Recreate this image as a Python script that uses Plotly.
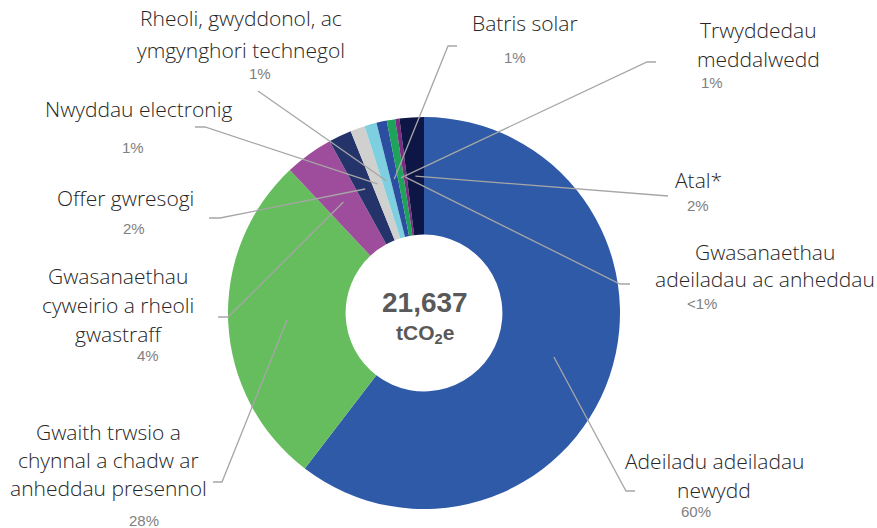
import math
import plotly.graph_objects as go

# ---- data ----
categories = [
    "Adeiladu adeiladau newydd",
    "Gwaith trwsio a chynnal a chadw ar anheddau presennol",
    "Gwasanaethau cyweirio a rheoli gwastraff",
    "Offer gwresogi",
    "Nwyddau electronig",
    "Rheoli, gwyddonol, ac ymgynghori technegol",
    "Batris solar",
    "Trwyddedau meddalwedd",
    "Gwasanaethau adeiladau ac anheddau",
    "Atal*",
]
label_lines = [
    ["Adeiladu adeiladau", "newydd"],
    ["Gwaith trwsio a", "chynnal a chadw ar", "anheddau presennol"],
    ["Gwasanaethau", "cyweirio a rheoli", "gwastraff"],
    ["Offer gwresogi"],
    ["Nwyddau electronig"],
    ["Rheoli, gwyddonol, ac", "ymgynghori technegol"],
    ["Batris solar"],
    ["Trwyddedau", "meddalwedd"],
    ["Gwasanaethau", "adeiladau ac anheddau"],
    ["Atal*"],
]
values = [13069, 5972, 865, 411, 260, 216, 184, 151, 76, 433]  # tCO2e
total_label = "21,637"

# ---- styles / layout ----
colors = ["#2F5AA8", "#66BD5E", "#9E4C9C", "#25336B", "#D0D1CF",
          "#7ECFE0", "#2B4EA0", "#1DA35A", "#7B2D80", "#0E1645"]
W, H = 877, 528
CX, CY, R = 424, 313, 196
HOLE = 0.40
ANCHOR_F = 0.70

# label placement: (text center x, first line y, line spacing, pct x, pct y, elbow, end)
label_layout = [
    (714, 461, 29, 696, 511, (626, 491), (635, 491)),
    (108, 432, 28, 144, 520, (222, 482), (213, 482)),
    (118, 276, 29, 148, 355, (228, 317), (218, 317)),
    (125, 198, 29, 134, 228, (220, 218), (209, 218)),
    (138, 109, 29, 133, 147, (205, 127), (195, 127)),
    (241, 18, 32, 260, 73, (258, 91), (258, 91)),
    (525, 23, 29, 515, 57, (448, 46), (457, 46)),
    (758, 30, 29, 712, 82, (647, 62), (656, 62)),
    (765, 252, 27, 702, 303, (620, 284), (630, 284)),
    (698, 180, 29, 698, 205, (668, 196), (668, 196)),
]

LABEL_FONT = dict(family="Open Sans", size=21, color="#262626", weight=300)
PCT_FONT = dict(family="Liberation Sans, Arial", size=15, color="#808080")
LINE_COLOR = "#A6A6A6"

total = sum(values)

fig = go.Figure()
fig.add_trace(go.Pie(
    labels=categories, values=values, sort=False, direction="clockwise",
    rotation=0, hole=HOLE, textinfo="none", hoverinfo="label+value+percent",
    marker=dict(colors=colors, line=dict(width=0)),
    domain=dict(x=[(CX - R) / W, (CX + R) / W],
                y=[(H - CY - R) / H, (H - CY + R) / H]),
    showlegend=False,
))

shapes = []
annotations = []
cum = 0
for i, v in enumerate(values):
    theta = math.radians(360 * (cum + v / 2) / total)
    cum += v
    ax = CX + ANCHOR_F * R * math.sin(theta)
    ay = CY - ANCHOR_F * R * math.cos(theta)
    tx, ty, dy, px, py, elbow, end = label_layout[i]
    path = f"M {ax:.1f},{ay:.1f} L {elbow[0]},{elbow[1]} L {end[0]},{end[1]}"
    shapes.append(dict(type="path", path=path, xref="x", yref="y",
                       line=dict(color=LINE_COLOR, width=1.3), layer="above"))
    for j, line in enumerate(label_lines[i]):
        annotations.append(dict(x=tx, y=ty + j * dy, xref="x", yref="y", text=line,
                                showarrow=False, font=LABEL_FONT,
                                xanchor="center", yanchor="middle"))
    pct = v / total * 100
    pct_txt = "&lt;1%" if pct < 0.5 else f"{round(pct)}%"
    annotations.append(dict(x=px, y=py, xref="x", yref="y", text=pct_txt,
                            showarrow=False, font=PCT_FONT,
                            xanchor="center", yanchor="middle"))

annotations.append(dict(x=CX + 1, y=302, xref="x", yref="y", text=f"<b>{total_label}</b>",
                        showarrow=False, xanchor="center", yanchor="middle",
                        font=dict(family="Liberation Sans, Arial", size=28, color="#595959")))
annotations.append(dict(x=CX + 1, y=334, xref="x", yref="y", text="<b>tCO<sub>2</sub>e</b>",
                        showarrow=False, xanchor="center", yanchor="middle",
                        font=dict(family="Liberation Sans, Arial", size=21, color="#595959")))

fig.update_layout(
    width=W, height=H, margin=dict(l=0, r=0, t=0, b=0),
    paper_bgcolor="white", plot_bgcolor="rgba(0,0,0,0)",
    xaxis=dict(range=[0, W], visible=False, fixedrange=True),
    yaxis=dict(range=[H, 0], visible=False, fixedrange=True),
    shapes=shapes, annotations=annotations,
)

fig.write_html("out.html", config={"displayModeBar": False},
               post_script="document.body.style.margin='0px';")
